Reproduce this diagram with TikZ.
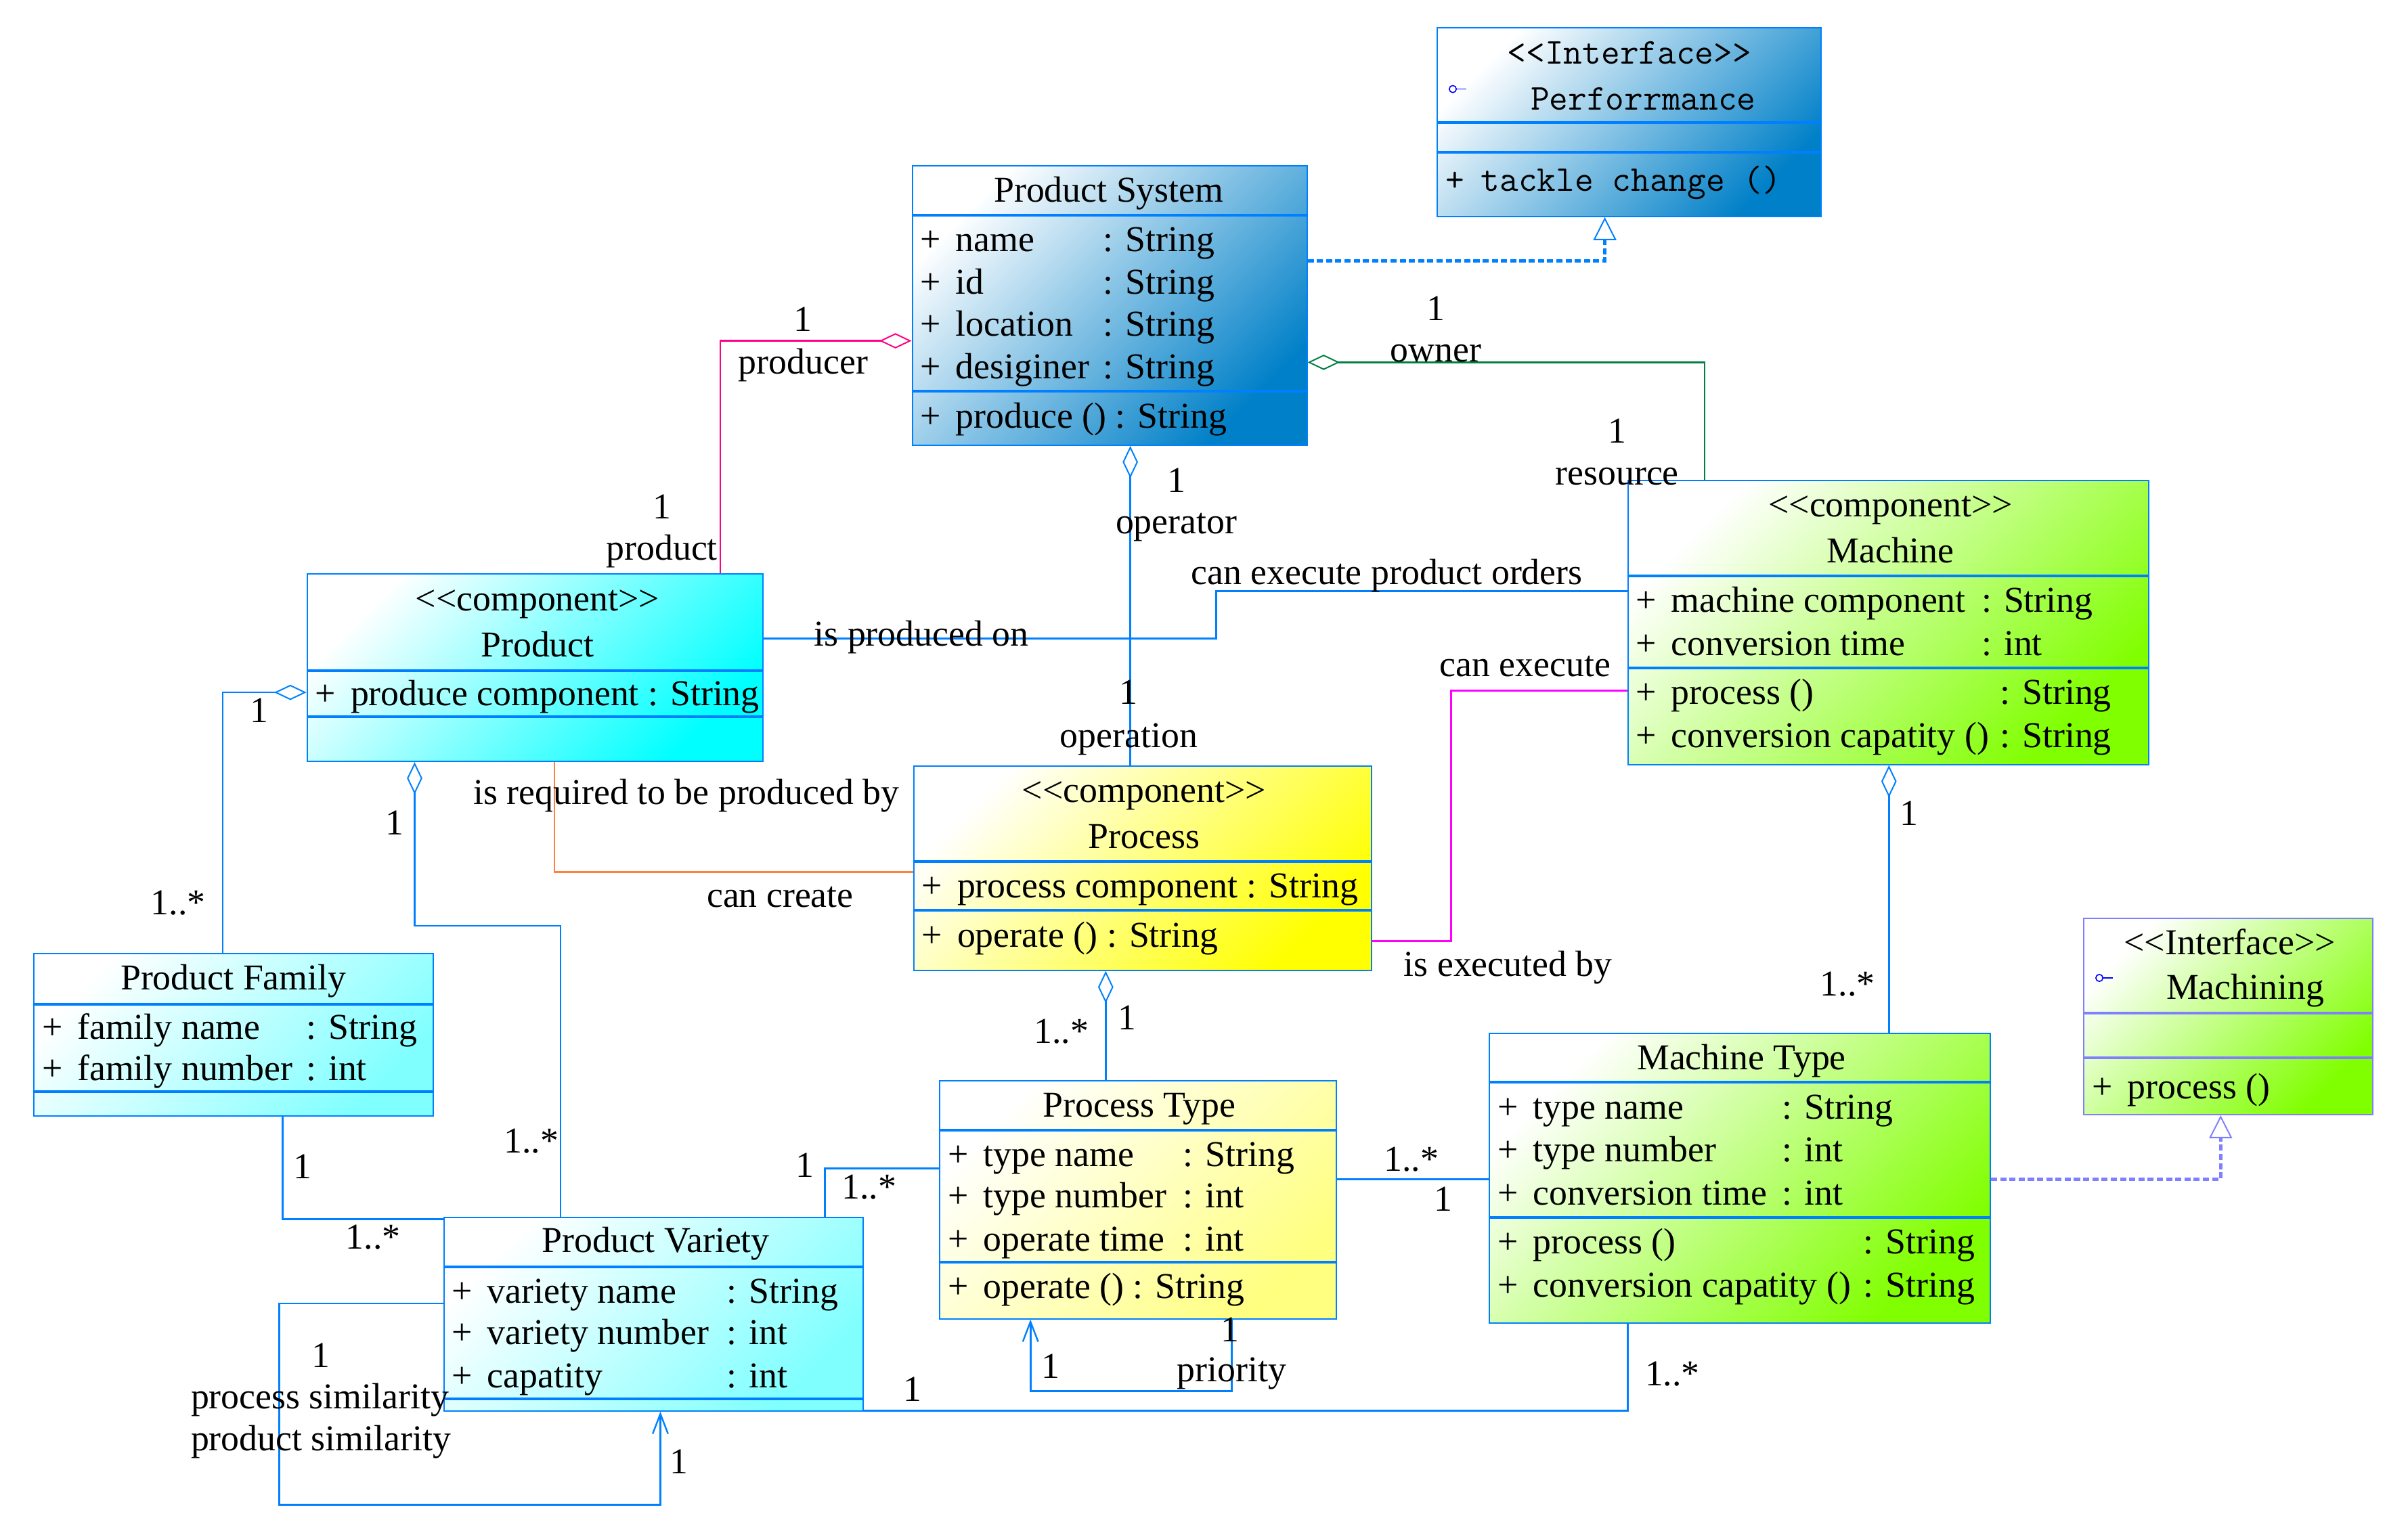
\documentclass[tikz,border=0pt]{standalone}
\usepackage{fontspec}
\setmainfont{Liberation Serif}[Ligatures=TeXOff]
\usetikzlibrary{arrows.meta,fit,shadings}
\definecolor{bordblue}{RGB}{0,128,255}
\definecolor{linkblue}{RGB}{0,128,255}
\definecolor{psblue}{RGB}{0,128,200}
\definecolor{cyanfull}{RGB}{0,255,255}
\definecolor{cyanlight}{RGB}{128,255,255}
\definecolor{yelfull}{RGB}{255,255,0}
\definecolor{yellight}{RGB}{255,255,128}
\definecolor{grnfull}{RGB}{128,255,0}
\definecolor{pinkline}{RGB}{255,0,128}
\definecolor{grnline}{RGB}{0,128,64}
\definecolor{magline}{RGB}{255,0,255}
\definecolor{orgline}{RGB}{255,128,64}
\definecolor{purpline}{RGB}{128,128,255}
\definecolor{iconblue}{RGB}{0,0,255}
\newcommand\umlfont{\fontsize{13.5pt}{16pt}\selectfont}
\newcommand\plusrow[4]{%
  \node[txt, anchor=west] (#1-p) at (#2+5,#3) {+};
  \node[txt, anchor=west] (#1-n) at (#2+28,#3) {#4};}
\newcommand\typecol[4]{\node[txt, anchor=west] (#1) at (#2,#3) {#4};}
\newcommand\lbl[4]{\node[txt] (#1) at (#2,#3) {#4};}
\begin{document}
\begin{tikzpicture}[x=0.02cm,y=-0.02cm, font=\umlfont,
  txt/.style={inner sep=0pt, text height=10.5pt, text depth=1.7pt},
  umlbox/.style={draw=bordblue, line width=0.5pt, inner sep=0pt, top color=white, bottom color=#1, shading angle=45},
  sepl/.style={draw=bordblue, line width=1pt},
  conn/.style={draw=linkblue, line width=0.7pt},
  agg/.style={-{Diamond[open,length=0.42cm,width=0.2cm,line width=0.5pt]}},
  realz/.style={-{Triangle[open,length=0.3cm,width=0.3cm,line width=0.5pt]}, line width=1.3pt, dash pattern=on 0.08cm off 0.04cm},
  nav/.style={-{Straight Barb[length=0.26cm,width=0.2cm,line width=0.6pt]}},
]
\useasboundingbox (0,0) rectangle (1568,990);

% ---------- Interface Performance ----------
\node[umlbox=psblue, fit={(936,18) (1186,141)}] (perf) {};
\draw[sepl] (perf.west |- 0,80) -- (perf.east |- 0,80);
\draw[sepl] (perf.west |- 0,99) -- (perf.east |- 0,99);
\node[txt, font=\umlfont\ttfamily] (perf-s) at (1061,34) {<<Interface>>};
\node[txt, font=\umlfont\ttfamily] (perf-t) at (1070,64) {Perforrmance};
\draw[iconblue, line width=0.4pt] (946,58) circle (2.3);
\draw[iconblue, line width=0.4pt] (948.3,58) -- (955,58);
\node[txt, anchor=west, font=\umlfont\ttfamily] (perf-m-p) at (941,117) {+};
\node[txt, anchor=west, font=\umlfont\ttfamily] (perf-m-n) at (964,117) {tackle change ()};

% ---------- Product System ----------
\node[umlbox=psblue, fit={(594,108) (851,290)}] (ps) {};
\draw[sepl] (ps.west |- 0,140) -- (ps.east |- 0,140);
\draw[sepl] (ps.west |- 0,255) -- (ps.east |- 0,255);
\node[txt] (ps-t) at (722,124) {Product System};
\plusrow{ps-a1}{594}{156}{name}      \typecol{ps-a1t}{718}{156}{: String}
\plusrow{ps-a2}{594}{184}{id}        \typecol{ps-a2t}{718}{184}{: String}
\plusrow{ps-a3}{594}{211}{location}  \typecol{ps-a3t}{718}{211}{: String}
\plusrow{ps-a4}{594}{239}{desiginer} \typecol{ps-a4t}{718}{239}{: String}
\plusrow{ps-m1}{594}{271}{produce () : String}

% ---------- Product ----------
\node[umlbox=cyanfull, fit={(200,374) (497,496)}] (prod) {};
\draw[sepl] (prod.west |- 0,437) -- (prod.east |- 0,437);
\draw[sepl] (prod.west |- 0,467) -- (prod.east |- 0,467);
\node[txt] (prod-s) at (350,390) {<<component>>};
\node[txt] (prod-t) at (350,420) {Product};
\plusrow{prod-a1}{200}{452}{produce component : String}

% ---------- Machine ----------
\node[umlbox=grnfull, fit={(1060,313) (1399,498)}] (mach) {};
\draw[sepl] (mach.west |- 0,375) -- (mach.east |- 0,375);
\draw[sepl] (mach.west |- 0,435) -- (mach.east |- 0,435);
\node[txt] (mach-s) at (1231,329) {<<component>>};
\node[txt] (mach-t) at (1231,359) {Machine};
\plusrow{mach-a1}{1060}{391}{machine component} \typecol{mach-a1t}{1290}{391}{: String}
\plusrow{mach-a2}{1060}{419}{conversion time}   \typecol{mach-a2t}{1290}{419}{: int}
\plusrow{mach-m1}{1060}{451}{process ()}        \typecol{mach-m1t}{1302}{451}{: String}
\plusrow{mach-m2}{1060}{479}{conversion capatity ()} \typecol{mach-m2t}{1302}{479}{: String}

% ---------- Process ----------
\node[umlbox=yelfull, fit={(595,499) (893,632)}] (proc) {};
\draw[sepl] (proc.west |- 0,561) -- (proc.east |- 0,561);
\draw[sepl] (proc.west |- 0,593) -- (proc.east |- 0,593);
\node[txt] (proc-s) at (745,515) {<<component>>};
\node[txt] (proc-t) at (745,545) {Process};
\plusrow{proc-a1}{595}{577}{process component : String}
\plusrow{proc-m1}{595}{609}{operate () : String}

% ---------- Product Family ----------
\node[umlbox=cyanlight, fit={(22,621) (282,727)}] (pf) {};
\draw[sepl] (pf.west |- 0,654) -- (pf.east |- 0,654);
\draw[sepl] (pf.west |- 0,711) -- (pf.east |- 0,711);
\node[txt] (pf-t) at (152,637) {Product Family};
\plusrow{pf-a1}{22}{669}{family name}   \typecol{pf-a1t}{199}{669}{: String}
\plusrow{pf-a2}{22}{696}{family number} \typecol{pf-a2t}{199}{696}{: int}

% ---------- Product Variety ----------
\node[umlbox=cyanlight, fit={(289,793) (562,919)}] (pv) {};
\draw[sepl] (pv.west |- 0,825) -- (pv.east |- 0,825);
\draw[sepl] (pv.west |- 0,911) -- (pv.east |- 0,911);
\node[txt] (pv-t) at (427,808) {Product Variety};
\plusrow{pv-a1}{289}{841}{variety name}   \typecol{pv-a1t}{473}{841}{: String}
\plusrow{pv-a2}{289}{868}{variety number} \typecol{pv-a2t}{473}{868}{: int}
\plusrow{pv-a3}{289}{896}{capatity}       \typecol{pv-a3t}{473}{896}{: int}

% ---------- Process Type ----------
\node[umlbox=yellight, fit={(612,704) (870,859)}] (pt) {};
\draw[sepl] (pt.west |- 0,736) -- (pt.east |- 0,736);
\draw[sepl] (pt.west |- 0,822) -- (pt.east |- 0,822);
\node[txt] (pt-t) at (742,720) {Process Type};
\plusrow{pt-a1}{612}{752}{type name}    \typecol{pt-a1t}{770}{752}{: String}
\plusrow{pt-a2}{612}{779}{type number}  \typecol{pt-a2t}{770}{779}{: int}
\plusrow{pt-a3}{612}{807}{operate time} \typecol{pt-a3t}{770}{807}{: int}
\plusrow{pt-m1}{612}{838}{operate () : String}

% ---------- Machine Type ----------
\node[umlbox=grnfull, fit={(970,673) (1296,862)}] (mt) {};
\draw[sepl] (mt.west |- 0,705) -- (mt.east |- 0,705);
\draw[sepl] (mt.west |- 0,793) -- (mt.east |- 0,793);
\node[txt] (mt-t) at (1134,689) {Machine Type};
\plusrow{mt-a1}{970}{721}{type name}       \typecol{mt-a1t}{1160}{721}{: String}
\plusrow{mt-a2}{970}{749}{type number}     \typecol{mt-a2t}{1160}{749}{: int}
\plusrow{mt-a3}{970}{777}{conversion time} \typecol{mt-a3t}{1160}{777}{: int}
\plusrow{mt-m1}{970}{809}{process ()}      \typecol{mt-m1t}{1213}{809}{: String}
\plusrow{mt-m2}{970}{837}{conversion capatity ()} \typecol{mt-m2t}{1213}{837}{: String}

% ---------- Interface Machining ----------
\node[umlbox=grnfull, draw=purpline, fit={(1357,598) (1545,726)}] (mchn) {};
\draw[sepl, draw=purpline] (mchn.west |- 0,660) -- (mchn.east |- 0,660);
\draw[sepl, draw=purpline] (mchn.west |- 0,689) -- (mchn.east |- 0,689);
\node[txt] (mchn-s) at (1452,614) {<<Interface>>};
\node[txt] (mchn-t) at (1462,643) {Machining};
\draw[iconblue, line width=0.4pt] (1367,637) circle (2.3);
\draw[iconblue, line width=0.4pt] (1369.3,637) -- (1376,637);
\plusrow{mchn-m1}{1357}{708}{process ()}

% ---------- Connectors ----------
\draw[draw=linkblue, realz] (ps.east |- 0,170) -| (perf.south -| 1045,0);
\draw[draw=pinkline, line width=0.7pt, agg] (prod.north -| 469,0) |- (ps.west |- 0,222);
\draw[draw=grnline, line width=0.7pt, agg] (mach.north -| 1110,0) |- (ps.east |- 0,236);
\draw[conn, agg] (proc.north -| 736,0) -- (ps.south -| 736,0);
\draw[conn] (prod.east |- 0,416) -- (792,416) |- (mach.west |- 0,385);
\draw[draw=magline, line width=0.7pt] (mach.west |- 0,450) -- (945,450) |- (proc.east |- 0,613);
\draw[draw=orgline, line width=0.7pt] (prod.south -| 361,0) |- (proc.west |- 0,568);
\draw[conn, agg] (pf.north -| 145,0) |- (prod.west |- 0,451);
\draw[conn, agg] (pv.north -| 365,0) -- (365,603) -| (prod.south -| 270,0);
\draw[conn] (pf.south -| 184,0) |- (pv.west |- 0,794);
\draw[conn] (pv.north -| 537,0) |- (pt.west |- 0,761);
\draw[conn, agg] (pt.north -| 720,0) -- (proc.south -| 720,0);
\draw[conn] (pt.east |- 0,768) -- (mt.west |- 0,768);
\draw[conn, agg] (mt.north -| 1230,0) -- (mach.south -| 1230,0);
\draw[draw=purpline, realz] (mt.east |- 0,768) -| (mchn.south -| 1446,0);
\draw[conn] (pv.east |- 0,919) -| (mt.south -| 1060,0);
\draw[conn, nav] (pv.west |- 0,849) -| (182,980) -| (pv.south -| 430,0);
\draw[conn, nav] (pt.south -| 802,0) |- (671,906) -- (pt.south -| 671,0);

% ---------- Labels ----------
\lbl{l1}{523}{208}{1}
\lbl{l2}{523}{236}{producer}
\lbl{l3}{431}{330}{1}
\lbl{l4}{431}{357}{product}
\lbl{l5}{935}{201}{1}
\lbl{l6}{935}{228}{owner}
\lbl{l7}{1053}{281}{1}
\lbl{l8}{1053}{308}{resource}
\lbl{l9}{766}{313}{1}
\lbl{l10}{766}{340}{operator}
\lbl{l11}{735}{451}{1}
\lbl{l12}{735}{479}{operation}
\lbl{l13}{600}{413}{is produced on}
\lbl{l14}{903}{373}{can execute product orders}
\lbl{l15}{993}{433}{can execute}
\lbl{l16}{982}{628}{is executed by}
\lbl{l17}{447}{516}{is required to be produced by}
\lbl{l18}{508}{583}{can create}
\lbl{l19}{169}{463}{1}
\lbl{l20}{116}{588}{1..*}
\lbl{l21}{257}{536}{1}
\lbl{l22}{346}{743}{1..*}
\lbl{l23}{197}{760}{1}
\lbl{l24}{243}{806}{1..*}
\lbl{l25}{524}{759}{1}
\lbl{l26}{566}{773}{1..*}
\lbl{l27}{691}{672}{1..*}
\lbl{l28}{734}{663}{1}
\lbl{l29}{919}{755}{1..*}
\lbl{l30}{940}{781}{1}
\lbl{l31}{1243}{530}{1}
\lbl{l32}{1203}{641}{1..*}
\lbl{l33}{594}{905}{1}
\lbl{l34}{1089}{895}{1..*}
\lbl{l35}{209}{883}{1}
\node[txt, anchor=west] (l36) at (124,910) {process similarity};
\node[txt, anchor=west] (l37) at (124,937) {product similarity};
\lbl{l38}{442}{952}{1}
\lbl{l39}{801}{866}{1}
\lbl{l40}{684}{890}{1}
\lbl{l41}{802}{892}{priority}
\end{tikzpicture}
\end{document}
